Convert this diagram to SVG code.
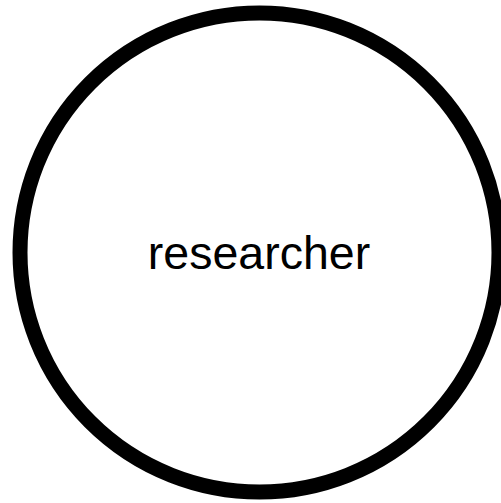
<svg xmlns="http://www.w3.org/2000/svg" width="501" height="503" viewBox="0 0 501 503">
<style>
.node{fill:#ffffff;stroke:#000000;stroke-width:15}
.label{font-family:"Liberation Sans",Arial,sans-serif;font-size:46.5px;fill:#000000;text-anchor:middle}
</style>
<rect width="501" height="503" fill="#ffffff"/>
<g id="connectors"></g>
<g id="researcher">
<circle class="node" cx="259.5" cy="252.5" r="239.5"/>
<text class="label" x="259" y="269">researcher</text>
</g>
</svg>
